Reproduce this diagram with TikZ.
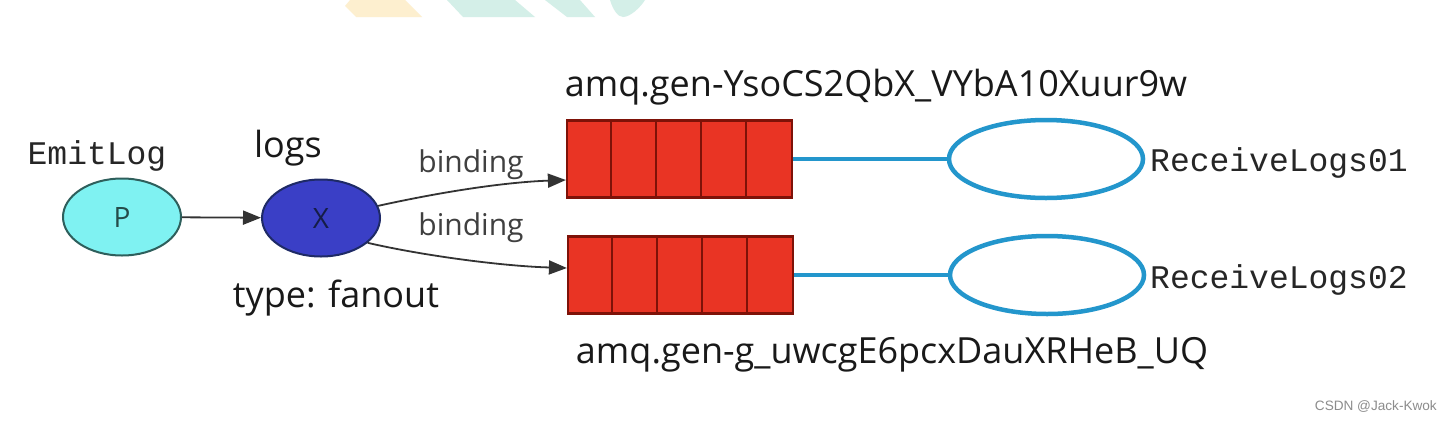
\documentclass[tikz,border=0pt]{standalone}
\usepackage{fontspec}
\setmainfont{Open Sans}
\newfontfamily\monof{Liberation Mono}
\newfontfamily\arialf{Liberation Sans}
\usetikzlibrary{arrows.meta,shapes.geometric}
\definecolor{pfill}{HTML}{7FF2F2}
\definecolor{pdraw}{HTML}{2E5F5C}
\definecolor{xfill}{HTML}{3A3FC6}
\definecolor{xdraw}{HTML}{1E2A66}
\definecolor{qfill}{HTML}{E93424}
\definecolor{qdraw}{HTML}{7E1208}
\definecolor{cdraw}{HTML}{2396CC}
\definecolor{edgec}{HTML}{333333}
\definecolor{wmy}{HTML}{FDEFCF}
\definecolor{wmg}{HTML}{D4EFE8}
\tikzset{
  mono/.style={font=\monof\fontsize{33}{36}\selectfont, text=black!85, inner sep=0pt, anchor=base},
  lbl/.style={font=\fontsize{36}{40}\selectfont, text=black!90, inner sep=0pt, anchor=base},
  bind/.style={font=\fontsize{30}{34}\selectfont, text=black!75, inner sep=0pt, anchor=base},
  prod/.style={ellipse, draw=pdraw, line width=2pt, fill=pfill, minimum width=118pt, minimum height=77pt, inner sep=0pt, font=\fontsize{28}{30}\selectfont, text=pdraw!80!black},
  exch/.style={ellipse, draw=xdraw, line width=2pt, fill=xfill, minimum width=118pt, minimum height=77pt, inner sep=0pt, font=\fontsize{28}{30}\selectfont, text=xdraw!70!black},
  queue/.style={rectangle, draw=qdraw, line width=2.2pt, fill=qfill, minimum width=225pt, minimum height=77pt, inner sep=0pt},
  cons/.style={ellipse, draw=cdraw, line width=4.5pt, minimum width=194pt, minimum height=78pt, inner sep=0pt},
  arr/.style={draw=edgec, line width=1.8pt, -{Triangle[length=18pt,width=14pt]}},
  cline/.style={draw=cdraw, line width=4.5pt}
}
\begin{document}
\begin{tikzpicture}[x=1pt,y=-1pt]
\useasboundingbox (0,0) rectangle (1453,421);
\fill[white] (0,0) rectangle (1453,421);
% faint watermark shapes at the top
\fill[wmy] (350,0) -- (345,6) -- (356,17) -- (422,17) -- (405,0) -- cycle;
\fill[wmg] (447,0) -- (463,17) -- (535,17) -- (515,0) -- cycle;
\fill[wmg] (545,0) -- (567,17) -- (595,17) -- (580,0) -- cycle;
\fill[wmg] (610,0) .. controls (613,10) and (618,17) .. (623,17) .. controls (630,17) and (640,8) .. (645,0) -- cycle;

% nodes
\node[prod] (P) at (122,217) {P};
\node[exch] (X) at (321,218) {X};
\node[mono] (emit) at (97,164) {EmitLog};
\node[lbl] (logs) at (288,157) {logs};
\node[lbl] (type) at (336,307) {type: fanout};

\node[queue] (q1) at (679.5,159) {};
\node[queue] (q2) at (680.5,275) {};
\foreach \q in {q1,q2}{
  \foreach \i in {1,2,3,4}{
    \draw[qdraw, line width=2.2pt] ([xshift=\i*45pt]\q.north west) -- ([xshift=\i*45pt]\q.south west);
  }
}
\node[lbl] (n1) at (876,96) {amq.gen-YsoCS2QbX\_VYbA10Xuur9w};
\node[lbl] (n2) at (892,363) {amq.gen-g\_uwcgE6pcxDauXRHeB\_UQ};

\node[cons] (c1) at (1046,159) {};
\node[cons] (c2) at (1047,275) {};
\node[mono, anchor=base west] (r1) at (1150,171) {ReceiveLogs01};
\node[mono, anchor=base west] (r2) at (1150,288) {ReceiveLogs02};

% connectors
\draw[arr] (P) -- (X);
\draw[arr] (X.12) .. controls (450,190) and (510,182) .. (q1.west |- 0,180);
\draw[arr] (X.-28) .. controls (420,255) and (500,266) .. (q2.west |- 0,268);
\node[bind] (b1) at (471,172) {binding};
\node[bind] (b2) at (471,235) {binding};

\draw[cline] (q1.east) -- (c1.west);
\draw[cline] (q2.east) -- (c2.west);

\node[font=\arialf\fontsize{13.6}{15}\selectfont, text=black!45, inner sep=0pt, anchor=base east] (csdn) at (1437,410) {CSDN @Jack-Kwok};
\end{tikzpicture}
\end{document}
